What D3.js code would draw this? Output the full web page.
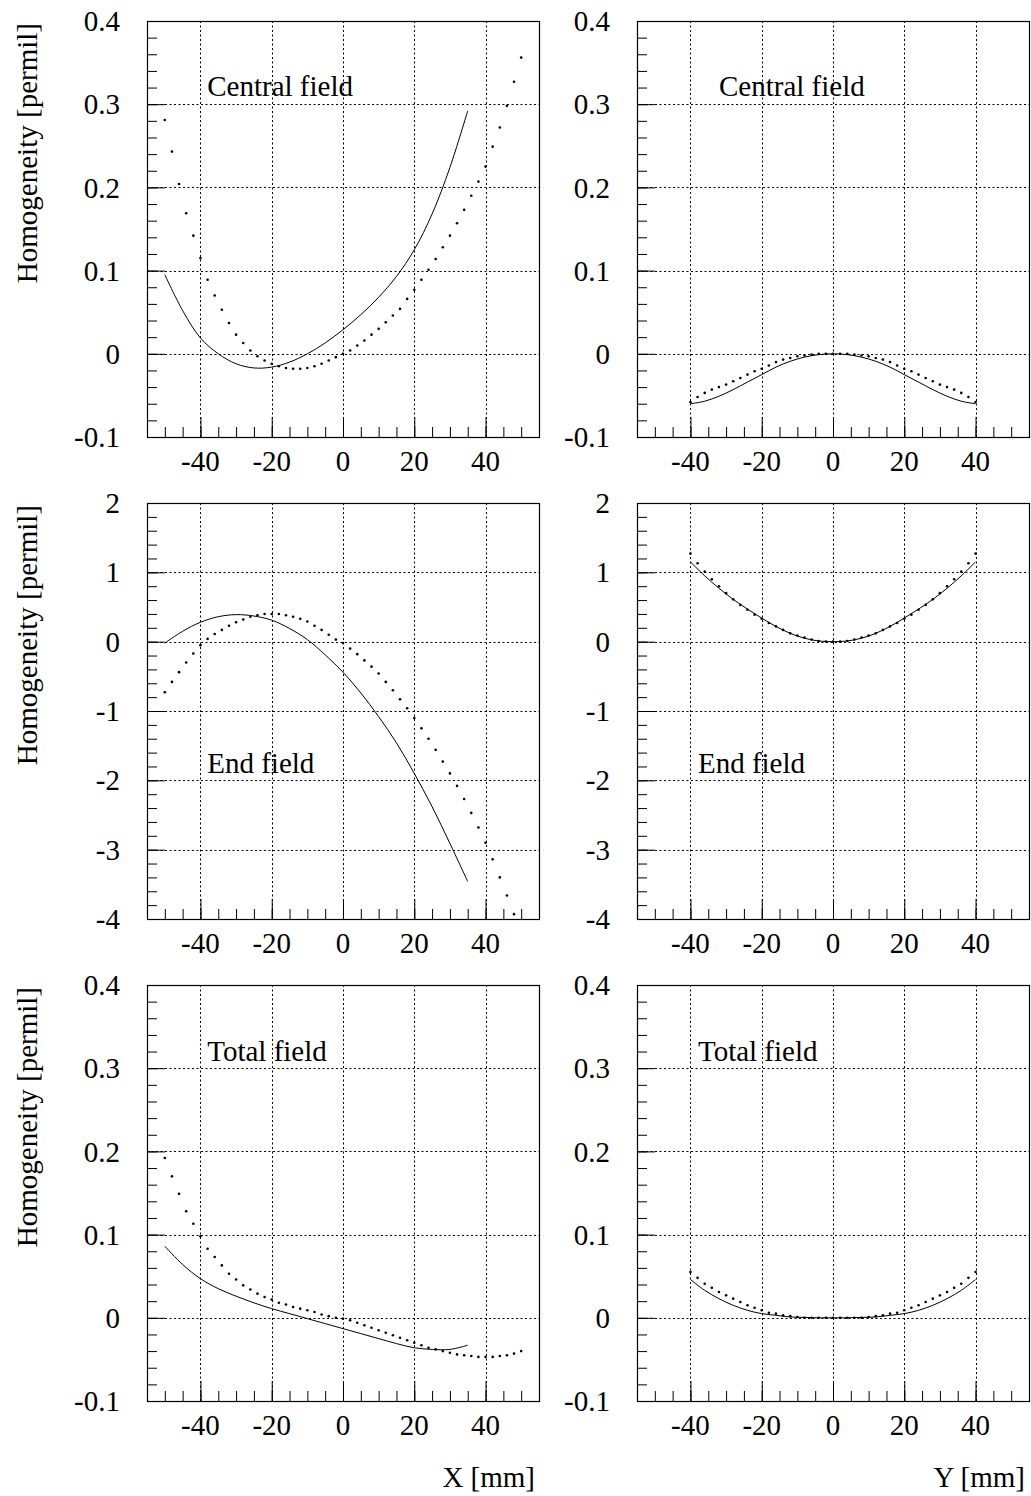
<!DOCTYPE html>
<html>
<head>
<meta charset="utf-8">
<script src="https://cdn.jsdelivr.net/npm/d3@7"></script>
<style>
  html, body { margin: 0; padding: 0; background: #fff; }
  svg text { font-family: "Liberation Serif", "Times New Roman", serif; fill: #000; }
</style>
</head>
<body>
<svg id="chart" width="1031" height="1496"></svg>
<script>
// Sampling positions (mm) of the calculation and the measurement.
const scanXSolid = [-50, -45, -40, -35, -30, -25, -20, -15, -10, -5, 0, 5, 10, 15, 20, 25, 30, 35];
const scanXDots = [-50, -48, -46, -44, -42, -40, -38, -36, -34, -32, -30, -28, -26, -24, -22, -20, -18, -16, -14, -12, -10,
  -8, -6, -4, -2, 0, 2, 4, 6, 8, 10, 12, 14, 16, 18, 20, 22, 24, 26, 28, 30, 32, 34, 36, 38, 40, 42, 44, 46, 48, 50];
const scanYSolid = [-40, -36, -32, -28, -24, -20, -16, -12, -8, -4, 0, 4, 8, 12, 16, 20, 24, 28, 32, 36, 40];
const scanYDots = [-40, -38, -36, -34, -32, -30, -28, -26, -24, -22, -20, -18, -16, -14, -12, -10, -8, -6, -4, -2, 0,
  2, 4, 6, 8, 10, 12, 14, 16, 18, 20, 22, 24, 26, 28, 30, 32, 34, 36, 38, 40];

// Central field, X scan
const centralXSolid = [0.095, 0.052, 0.019, 0.000, -0.012, -0.017, -0.016, -0.010, 0.000, 0.013, 0.029, 0.047,
  0.068, 0.093, 0.125, 0.168, 0.224, 0.292];
const centralXDots = [0.281, 0.243, 0.204, 0.169, 0.142, 0.115, 0.089, 0.070, 0.053, 0.037, 0.023, 0.013, 0.004,
  -0.003, -0.008, -0.012, -0.015, -0.017, -0.018, -0.018, -0.017, -0.015, -0.012, -0.008, -0.004, 0.000, 0.004,
  0.010, 0.016, 0.023, 0.030, 0.038, 0.046, 0.054, 0.066, 0.077, 0.089, 0.101, 0.114, 0.128, 0.142, 0.157, 0.173,
  0.190, 0.207, 0.225, 0.249, 0.272, 0.298, 0.327, 0.356];

// Central field, Y scan
const centralYSolid = [-0.060, -0.057, -0.051, -0.043, -0.034, -0.025, -0.016, -0.009, -0.004, -0.001, 0.000,
  -0.001, -0.004, -0.009, -0.016, -0.025, -0.034, -0.043, -0.051, -0.057, -0.060];
const centralYDots = [-0.058, -0.052, -0.047, -0.043, -0.040, -0.037, -0.033, -0.029, -0.025, -0.021, -0.018,
  -0.014, -0.010, -0.007, -0.005, -0.003, -0.002, -0.001, 0.000, 0.000, 0.000, 0.000, 0.000, -0.001, -0.002,
  -0.003, -0.005, -0.007, -0.010, -0.014, -0.018, -0.021, -0.025, -0.029, -0.033, -0.037, -0.040, -0.043, -0.047,
  -0.052, -0.058];

// End field, X scan
const endXSolid = [-0.02, 0.15, 0.28, 0.36, 0.39, 0.37, 0.31, 0.19, 0.03, -0.19, -0.44, -0.74, -1.08, -1.46,
  -1.90, -2.38, -2.91, -3.46];
const endXDots = [-0.73, -0.58, -0.44, -0.30, -0.17, -0.05, 0.04, 0.11, 0.17, 0.23, 0.28, 0.32, 0.36, 0.38, 0.40,
  0.40, 0.40, 0.38, 0.36, 0.33, 0.29, 0.23, 0.17, 0.10, 0.03, -0.02, -0.10, -0.18, -0.27, -0.36, -0.46, -0.58,
  -0.70, -0.83, -0.96, -1.10, -1.25, -1.40, -1.56, -1.73, -1.90, -2.08, -2.27, -2.47, -2.68, -2.90, -3.14, -3.40,
  -3.66, -3.93, -4.20];

// End field, Y scan
const endYSolid = [1.15, 0.95, 0.77, 0.61, 0.47, 0.34, 0.22, 0.12, 0.05, 0.01, 0.00, 0.01, 0.05, 0.12, 0.22,
  0.34, 0.47, 0.61, 0.77, 0.95, 1.15];
const endYDots = [1.27, 1.13, 1.01, 0.90, 0.80, 0.70, 0.61, 0.53, 0.46, 0.39, 0.33, 0.27, 0.22, 0.17, 0.12, 0.09,
  0.06, 0.03, 0.01, 0.003, 0.00, 0.003, 0.01, 0.03, 0.06, 0.09, 0.12, 0.17, 0.22, 0.27, 0.33, 0.39, 0.46, 0.53,
  0.61, 0.70, 0.80, 0.90, 1.01, 1.13, 1.27];

// Total field, X scan
const totalXSolid = [0.086, 0.064, 0.047, 0.035, 0.026, 0.018, 0.011, 0.005, -0.001, -0.007, -0.013, -0.019,
  -0.025, -0.031, -0.036, -0.038, -0.038, -0.033];
const totalXDots = [0.192, 0.170, 0.149, 0.128, 0.113, 0.098, 0.083, 0.073, 0.063, 0.053, 0.046, 0.039, 0.034,
  0.029, 0.025, 0.022, 0.018, 0.016, 0.013, 0.011, 0.009, 0.007, 0.004, 0.002, 0.000, -0.001, -0.003, -0.006,
  -0.009, -0.012, -0.015, -0.018, -0.021, -0.024, -0.027, -0.030, -0.033, -0.036, -0.038, -0.040, -0.042, -0.044,
  -0.045, -0.046, -0.047, -0.047, -0.047, -0.046, -0.045, -0.043, -0.040];

// Total field, Y scan
const totalYSolid = [0.046, 0.033, 0.023, 0.015, 0.009, 0.005, 0.003, 0.001, 0.0005, 0.000, 0.000, 0.000, 0.0005,
  0.001, 0.003, 0.005, 0.009, 0.015, 0.023, 0.033, 0.046];
const totalYDots = [0.055, 0.048, 0.041, 0.036, 0.031, 0.027, 0.023, 0.019, 0.015, 0.012, 0.009, 0.006, 0.005,
  0.003, 0.002, 0.001, 0.000, 0.000, 0.000, 0.000, 0.000, 0.000, 0.000, 0.000, 0.000, 0.001, 0.002, 0.003, 0.005,
  0.006, 0.009, 0.012, 0.015, 0.019, 0.023, 0.027, 0.031, 0.036, 0.041, 0.048, 0.055];

// Tick values and labels
const xTicks = [-40, -20, 0, 20, 40];
const yTicksSmall = [-0.1, 0, 0.1, 0.2, 0.3, 0.4];
const yTicksEnd = [-4, -3, -2, -1, 0, 1, 2];
const rowLabels = ["Central field", "End field", "Total field"];
const yTitle = "Homogeneity [permil]";
const xTitles = ["X [mm]", "Y [mm]"];

// Layout
const colLeft = [147, 637];
const rowTop = [21, 503, 985];
const W = 392, H = 416;
const fontSize = 29;

const panels = [
  {row: 0, col: 0, yd: [-0.1, 0.4], yt: yTicksSmall, ym: 0.02, sx: scanXSolid, sy: centralXSolid, dx: scanXDots, dy: centralXDots, lab: [-38.1, 0.31]},
  {row: 0, col: 1, yd: [-0.1, 0.4], yt: yTicksSmall, ym: 0.02, sx: scanYSolid, sy: centralYSolid, dx: scanYDots, dy: centralYDots, lab: [-32, 0.31]},
  {row: 1, col: 0, yd: [-4, 2], yt: yTicksEnd, ym: 0.2, sx: scanXSolid, sy: endXSolid, dx: scanXDots, dy: endXDots, lab: [-38.1, -1.9]},
  {row: 1, col: 1, yd: [-4, 2], yt: yTicksEnd, ym: 0.2, sx: scanYSolid, sy: endYSolid, dx: scanYDots, dy: endYDots, lab: [-37.9, -1.9]},
  {row: 2, col: 0, yd: [-0.1, 0.4], yt: yTicksSmall, ym: 0.02, sx: scanXSolid, sy: totalXSolid, dx: scanXDots, dy: totalXDots, lab: [-38.1, 0.309]},
  {row: 2, col: 1, yd: [-0.1, 0.4], yt: yTicksSmall, ym: 0.02, sx: scanYSolid, sy: totalYSolid, dx: scanYDots, dy: totalYDots, lab: [-37.9, 0.309]}
];

const svg = d3.select("#chart");

function fmt(d) {
  // plain hyphen like the original, not the unicode minus
  return String(+d.toFixed(2));
}

panels.forEach(p => {
  const x0 = colLeft[p.col], y0 = rowTop[p.row];
  const x = d3.scaleLinear().domain([-55, 55]).range([x0, x0 + W]);
  const y = d3.scaleLinear().domain(p.yd).range([y0 + H, y0]);
  const g = svg.append("g");

  // dotted grid
  g.selectAll("line.gx").data(xTicks).enter().append("line")
    .attr("x1", d => Math.round(x(d)) + 0.5).attr("x2", d => Math.round(x(d)) + 0.5)
    .attr("y1", y0).attr("y2", y0 + H)
    .attr("stroke", "#000").attr("stroke-width", 1).attr("stroke-dasharray", "2,2.5");
  g.selectAll("line.gy").data(p.yt).enter().append("line")
    .attr("x1", x0).attr("x2", x0 + W)
    .attr("y1", d => Math.round(y(d)) + 0.5).attr("y2", d => Math.round(y(d)) + 0.5)
    .attr("stroke", "#000").attr("stroke-width", 1).attr("stroke-dasharray", "2,2.5");

  // minor ticks
  const yMinor = d3.range(Math.round((p.yd[1] - p.yd[0]) / p.ym) + 1)
    .map(i => +(p.yd[0] + i * p.ym).toFixed(3));
  const xMinor = d3.range(-55, 56, 5);

  g.append("g").attr("transform", `translate(${x0},0)`)
    .call(d3.axisRight(y).tickValues(yMinor).tickSize(10).tickFormat(""))
    .call(a => a.select(".domain").remove())
    .call(a => a.selectAll("line").attr("stroke", "#000"));
  g.append("g").attr("transform", `translate(${x0},0)`)
    .call(d3.axisRight(y).tickValues(p.yt).tickSize(18).tickFormat(""))
    .call(a => a.select(".domain").remove())
    .call(a => a.selectAll("line").attr("stroke", "#000"));
  g.append("g").attr("transform", `translate(0,${y0 + H})`)
    .call(d3.axisTop(x).tickValues(xMinor).tickSize(10).tickFormat(""))
    .call(a => a.select(".domain").remove())
    .call(a => a.selectAll("line").attr("stroke", "#000"));
  g.append("g").attr("transform", `translate(0,${y0 + H})`)
    .call(d3.axisTop(x).tickValues(xTicks).tickSize(20).tickFormat(""))
    .call(a => a.select(".domain").remove())
    .call(a => a.selectAll("line").attr("stroke", "#000"));

  // tick labels
  g.selectAll("text.yl").data(p.yt).enter().append("text")
    .attr("x", x0 - 27).attr("y", d => y(d)).attr("dy", "0.35em")
    .attr("text-anchor", "end").attr("font-size", fontSize)
    .text(fmt);
  g.selectAll("text.xl").data(xTicks).enter().append("text")
    .attr("x", d => x(d)).attr("y", y0 + H + 34)
    .attr("text-anchor", "middle").attr("font-size", fontSize)
    .text(fmt);

  // frame
  g.append("rect").attr("x", x0 + 0.5).attr("y", y0 + 0.5).attr("width", W).attr("height", H)
    .attr("fill", "none").attr("stroke", "#000").attr("stroke-width", 1.2);

  // calculated curve
  const line = d3.line().x(d => x(d[0])).y(d => y(d[1])).curve(d3.curveCatmullRom.alpha(0.5));
  g.append("path").datum(d3.zip(p.sx, p.sy))
    .attr("d", line).attr("fill", "none").attr("stroke", "#000").attr("stroke-width", 1);

  // measured points (points below the range are not drawn)
  const pts = d3.zip(p.dx, p.dy).filter(d => d[1] >= p.yd[0] && d[1] <= p.yd[1]);
  g.selectAll("circle").data(pts).enter().append("circle")
    .attr("cx", d => x(d[0])).attr("cy", d => y(d[1])).attr("r", 1.3).attr("fill", "#000");

  // panel label
  g.append("text").attr("x", x(p.lab[0])).attr("y", y(p.lab[1]))
    .attr("font-size", fontSize).text(rowLabels[p.row]);
});

// y titles
rowTop.forEach(t => {
  svg.append("text")
    .attr("transform", `translate(37,${t + 2}) rotate(-90)`)
    .attr("text-anchor", "end").attr("font-size", fontSize)
    .text(yTitle);
});

// x titles
colLeft.forEach((c, i) => {
  svg.append("text")
    .attr("x", c + W - 4).attr("y", 1487)
    .attr("text-anchor", "end").attr("font-size", fontSize)
    .text(xTitles[i]);
});
</script>
</body>
</html>
